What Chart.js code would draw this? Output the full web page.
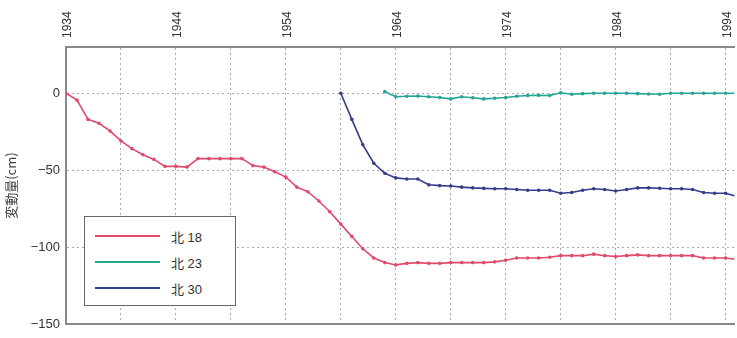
<!DOCTYPE html>
<html lang="ja">
<head>
    <meta charset="UTF-8">
    <title>変動量</title>
    <script src="https://cdn.jsdelivr.net/npm/chart.js@4/dist/chart.umd.min.js"></script>
    <style>
        body { margin: 0; background: #fff; }
        #wrap { position: relative; width: 737px; height: 338px; }
        #legend {
            position: absolute; left: 84px; top: 216px; width: 150px; height: 88px;
            border: 1.5px solid #666; background: #fff;
            font-family: "Liberation Sans", "Noto Sans CJK JP", sans-serif; font-size: 13px; color: #333;
        }
        #legend div { height: 26px; display: flex; align-items: center; padding-left: 10px; }
        #legend div:first-child { margin-top: 6px; }
        #legend span.ln { display: inline-block; width: 65px; height: 2px; margin-right: 11px; }
    </style>
</head>
<body>
<div id="wrap">
    <canvas id="paint" width="737" height="338"></canvas>
    <div id="legend"></div>
</div>
<script>
    // 北18
    var years18 = [1934,1935,1936,1937,1938,1939,1940,1941,1942,1943,1944,1945,1946,1947,1948,1949,1950,
        1951,1952,1953,1954,1955,1956,1957,1958,1959,1960,1961,1962,1963,1964,1965,1966,1967,1968,1969,1970,
        1971,1972,1973,1974,1975,1976,1977,1978,1979,1980,1981,1982,1983,1984,1985,1986,1987,1988,1989,1990,
        1991,1992,1993,1994,1995]
    var vals18 = [0,-4.5,-17,-19.5,-24.5,-31,-36,-40,-43,-47.5,-47.5,-48,-42.5,-42.5,-42.5,-42.5,-42.5,
        -47,-48,-51,-54.5,-61,-64,-70,-77,-85,-93,-101,-107,-110,-111.5,-110.5,-110,-110.5,-110.5,-110,-110,
        -110,-110,-109.5,-108.5,-107,-107,-107,-106.5,-105.5,-105.5,-105.5,-104.5,-105.5,-106,-105.5,-105,-105.5,-105.5,-105.5,-105.5,
        -105.5,-107,-107,-107,-108]
    // 北23
    var years23 = [1963,1964,1965,1966,1967,1968,1969,1970,1971,1972,1973,1974,1975,1976,1977,1978,1979,
        1980,1981,1982,1983,1984,1985,1986,1987,1988,1989,1990,1991,1992,1993,1994,1995]
    var vals23 = [1,-2.3,-2,-1.8,-2.3,-2.8,-3.7,-2.3,-3,-3.7,-3.3,-2.8,-2,-1.5,-1.3,-1.5,0.3,
        -0.7,-0.3,0,0,0,0,-0.3,-0.5,-0.7,0,0,0,0,0,0,0]
    // 北30
    var years30 = [1959,1960,1961,1962,1963,1964,1965,1966,1967,1968,1969,1970,1971,1972,1973,1974,1975,
        1976,1977,1978,1979,1980,1981,1982,1983,1984,1985,1986,1987,1988,1989,1990,1991,1992,1993,1994,1995]
    var vals30 = [0,-17,-33.5,-45.5,-52,-55,-55.7,-55.7,-59.5,-60,-60.3,-61,-61.5,-61.8,-62,-62,-62.5,
        -63,-63,-63,-65,-64.5,-63,-62,-62.5,-63.5,-62.5,-61.5,-61.5,-61.7,-62,-62,-62.5,-64.5,-65,-65,-67]

    var xTicks = [1934,1944,1954,1964,1974,1984,1994]
    var yTicks = [0,-50,-100,-150]

    function pairs(xs, ys) {
        var ret = []
        for (let i = 0; i < xs.length; i++) ret.push({x: xs[i], y: ys[i]})
        return ret
    }

    function line(label, color, data) {
        return {
            label: label, data: data, borderColor: color, backgroundColor: color,
            borderWidth: 1.6, pointRadius: 1, pointHoverRadius: 1, tension: 0
        }
    }

    function noPad(s) {
        s.paddingLeft = 0
        s.paddingRight = 0
    }

    var ctx = document.getElementById("paint").getContext("2d")
    var chart = new Chart(ctx, {
        type: 'line',
        data: {
            datasets: [
                line("北 18", '#e04a6c', pairs(years18, vals18)),
                line("北 23", '#23a594', pairs(years23, vals23)),
                line("北 30", '#363c8c', pairs(years30, vals30))
            ]
        },
        options: {
            responsive: false,
            animation: false,
            layout: { padding: { bottom: 13, right: 0 } },
            plugins: { legend: { display: false }, tooltip: { enabled: false } },
            scales: {
                x: {
                    type: 'linear', position: 'top', min: 1934, max: 1994.8,
                    afterFit: function (s) { s.height = 47; noPad(s) },
                    afterBuildTicks: function (s) {
                        var t = []
                        for (let v = 1934; v <= 1994; v += 5) t.push({value: v})
                        s.ticks = t
                    },
                    ticks: {
                        autoSkip: false, minRotation: 90, maxRotation: 90, padding: 9, labelOffset: 16,
                        color: '#333', font: { family: 'Liberation Sans', size: 12 },
                        callback: function (v) { return xTicks.indexOf(v) >= 0 ? String(v) : '' }
                    },
                    grid: { color: '#a8a8a8', lineWidth: 1, drawTicks: false },
                    border: { display: true, color: '#8a8a8a', width: 2, dash: [2, 3] }
                },
                x2: {
                    type: 'linear', position: 'bottom', min: 1934, max: 1994.8,
                    afterFit: function (s) { s.height = 0; noPad(s) },
                    ticks: { display: false },
                    grid: { drawOnChartArea: false, drawTicks: false },
                    border: { display: true, color: '#8a8a8a', width: 2 }
                },
                y: {
                    min: -150, max: 30,
                    afterFit: function (s) { s.width = 66 },
                    afterBuildTicks: function (s) {
                        s.ticks = yTicks.map(function (v) { return {value: v} })
                    },
                    ticks: {
                        padding: 6, color: '#333', font: { family: 'Liberation Sans', size: 13 },
                        callback: function (v) { return v < 0 ? '\u2212' + Math.abs(v) : String(v) }
                    },
                    grid: { color: '#a8a8a8', lineWidth: 1, drawTicks: false },
                    border: { display: true, color: '#8a8a8a', width: 2, dash: [2, 3] },
                    title: {
                        display: true, text: '変動量(cm)', color: '#444', padding: { top: 3, bottom: 0 },
                        font: { family: 'Noto Sans CJK JP', size: 13 }
                    }
                }
            }
        }
    })

    // legend box from the datasets
    var lg = document.getElementById("legend")
    chart.data.datasets.forEach(function (d) {
        var row = document.createElement("div")
        var ln = document.createElement("span")
        ln.className = "ln"
        ln.style.background = d.borderColor
        row.appendChild(ln)
        row.appendChild(document.createTextNode(d.label))
        lg.appendChild(row)
    })
</script>
</body>
</html>
